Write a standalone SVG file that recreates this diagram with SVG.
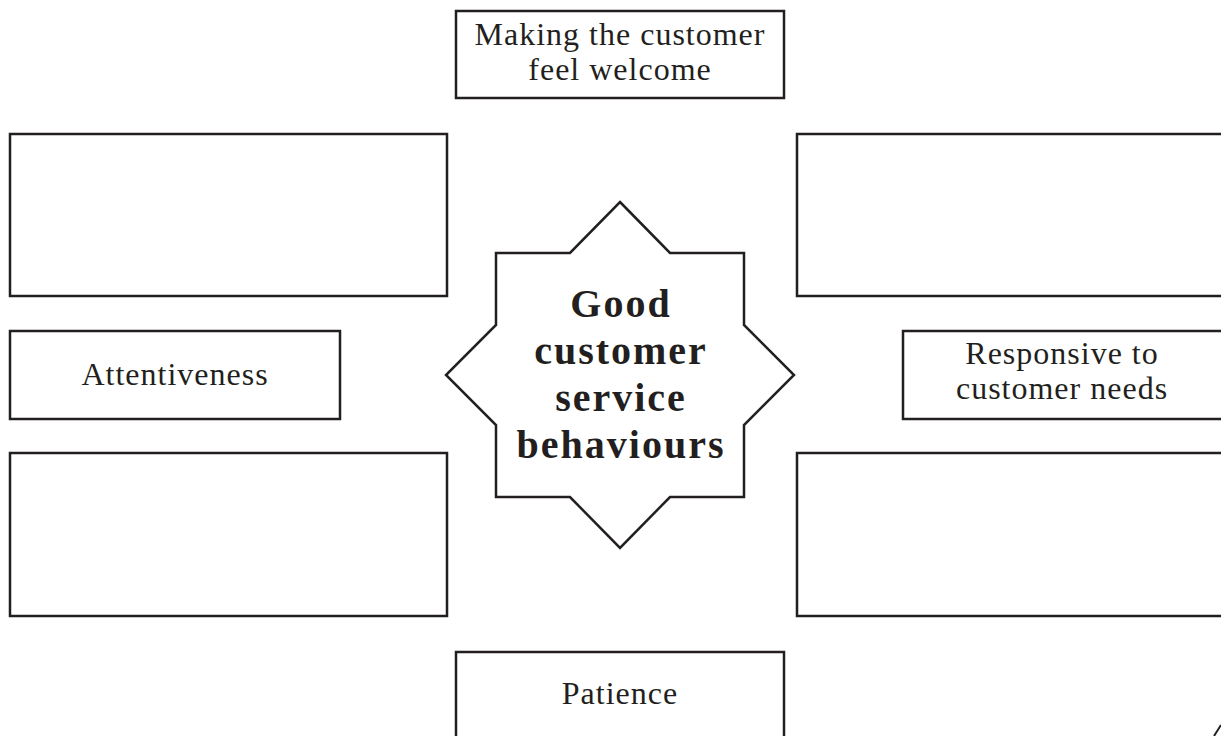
<svg xmlns="http://www.w3.org/2000/svg" width="1221" height="736" viewBox="0 0 1221 736">
<style>
.box{fill:#fff;stroke:#231f20;stroke-width:2.5}
.lbl{font-family:"Liberation Serif","Times New Roman",serif;font-size:32px;fill:#231f20;text-anchor:middle;letter-spacing:1px}
.hub{font-family:"Liberation Serif","Times New Roman",serif;font-size:40px;font-weight:bold;fill:#231f20;text-anchor:middle;letter-spacing:2px}
</style>
<rect width="1221" height="736" fill="#fff"/>
<g id="connectors"></g>
<g id="center">
<polygon class="box" points="620,202 670,253 744,253 744,325 794,375 744,425 744,497 670,497 620,548 570,497 496,497 496,425 446,375 496,325 496,253 570,253"/>
<text class="hub" x="621" y="317">Good</text>
<text class="hub" x="621" y="364">customer</text>
<text class="hub" x="621" y="411">service</text>
<text class="hub" x="621" y="458">behaviours</text>
</g>
<g id="welcome">
<rect class="box" x="456" y="11" width="328" height="87"/>
<text class="lbl" x="620" y="45">Making the customer</text>
<text class="lbl" x="620" y="80">feel welcome</text>
</g>
<g id="left-top"><rect class="box" x="10" y="134" width="437" height="162"/></g>
<g id="attentiveness">
<rect class="box" x="10" y="331" width="330" height="88"/>
<text class="lbl" x="175" y="385">Attentiveness</text>
</g>
<g id="left-bottom"><rect class="box" x="10" y="453" width="437" height="163"/></g>
<g id="right-top"><rect class="box" x="797" y="134" width="440" height="162"/></g>
<g id="responsive">
<rect class="box" x="903" y="331" width="334" height="88"/>
<text class="lbl" x="1062" y="364">Responsive to</text>
<text class="lbl" x="1062" y="399">customer needs</text>
</g>
<g id="right-bottom"><rect class="box" x="797" y="453" width="440" height="163"/></g>
<g id="patience">
<rect class="box" x="456" y="652" width="328" height="100"/>
<text class="lbl" x="620" y="704">Patience</text>
</g>
<path d="M1214,736 L1221,725" stroke="#231f20" stroke-width="2" fill="none"/>
</svg>
